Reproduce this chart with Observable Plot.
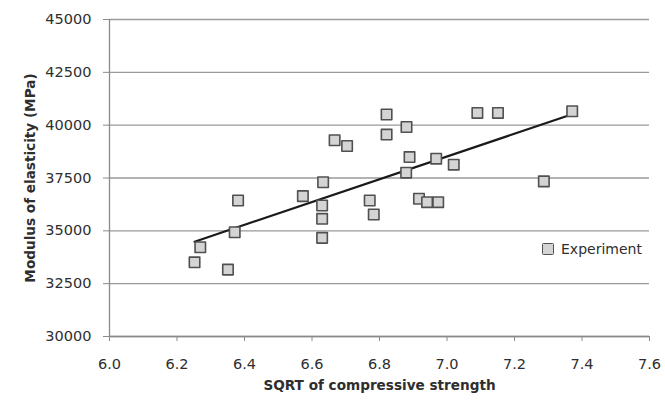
<!DOCTYPE html>
<html>
<head>
<meta charset="utf-8">
<script src="https://cdn.jsdelivr.net/npm/d3@7"></script>
<script src="https://cdn.jsdelivr.net/npm/@observablehq/plot@0.6"></script>
<style>
  body { margin: 0; background: #fff; }
  #wrap { position: relative; width: 665px; height: 401px; }
  #legend { position: absolute; left: 542px; top: 241px; display: flex; align-items: center;
            font-family: "DejaVu Sans", sans-serif; font-size: 14px; color: #2e2e2e; }
  #legend .sw { width: 10px; height: 10px; background: #d4d4d4; border: 1.5px solid #505050;
                border-radius: 1.5px; margin-right: 7px; }
</style>
</head>
<body>
<div id="wrap"><div id="legend"><span class="sw"></span><span>Experiment</span></div></div>
<script>
const sqrtStrength = [6.252, 6.269, 6.351, 6.371, 6.381, 6.573, 6.633, 6.630, 6.630, 6.630,
  6.667, 6.704, 6.771, 6.783, 6.821, 6.821, 6.880, 6.889, 6.879, 6.917, 6.941, 6.974,
  6.968, 7.020, 7.090, 7.151, 7.287, 7.371];
const modulus = [33510, 34222, 33164, 34934, 36437, 36641, 37300, 36200, 35569, 34668,
  39284, 39013, 36437, 35773, 40503, 39554, 39915, 38491, 37751, 36518, 36357, 36357,
  38415, 38131, 40579, 40579, 37339, 40659];
const xTicks = [6.0, 6.2, 6.4, 6.6, 6.8, 7.0, 7.2, 7.4, 7.6];
const yTicks = [30000, 32500, 35000, 37500, 40000, 42500, 45000];
const seriesName = "Experiment";
const xTitle = "SQRT of compressive strength";
const yTitle = "Modulus of elasticity (MPa)";

const data = sqrtStrength.map((x, i) => ({x, y: modulus[i], series: seriesName}));

const chart = Plot.plot({
  width: 665,
  height: 401,
  marginLeft: 109,
  marginRight: 16,
  marginTop: 19,
  marginBottom: 65,
  style: {fontFamily: "DejaVu Sans, sans-serif", fontSize: "14px", color: "#2e2e2e", background: "#fff"},
  x: {domain: [6.0, 7.6]},
  y: {domain: [30000, 45000]},
  marks: [
    Plot.gridY(yTicks, {stroke: "#9a9a9a", strokeOpacity: 1, strokeWidth: 1.4}),
    Plot.ruleX([6.0], {stroke: "#8a8a8a", strokeWidth: 1.3}),
    Plot.ruleY([30000], {stroke: "#8a8a8a", strokeWidth: 1.3}),
    Plot.axisY(yTicks, {tickSize: 6, tickPadding: 12, tickFormat: d3.format("d"), label: null, stroke: "#8a8a8a", fill: "#2e2e2e", fontSize: 14.5}),
    Plot.axisX(xTicks, {tickSize: 5, tickPadding: 17, tickFormat: d3.format(".1f"), label: null, stroke: "#8a8a8a", fill: "#2e2e2e", fontSize: 14.5}),
    Plot.linearRegressionY(data, {x: "x", y: "y", ci: 0, stroke: "#1a1a1a", strokeWidth: 2.2}),
    Plot.dot(data, {x: "x", y: "y", symbol: "square", r: 5.9, fill: "#d4d4d4", stroke: "#505050", strokeWidth: 1.6, strokeLinejoin: "round"}),
    Plot.text([xTitle], {frameAnchor: "bottom", dy: 53, fontWeight: "bold", fontSize: 13.6, fill: "#2e2e2e"}),
    Plot.text([yTitle], {frameAnchor: "left", textAnchor: "middle", dx: -79, rotate: -90, fontWeight: "bold", fontSize: 13.6, fill: "#2e2e2e"})
  ]
});
document.getElementById("wrap").prepend(chart);
</script>
</body>
</html>
